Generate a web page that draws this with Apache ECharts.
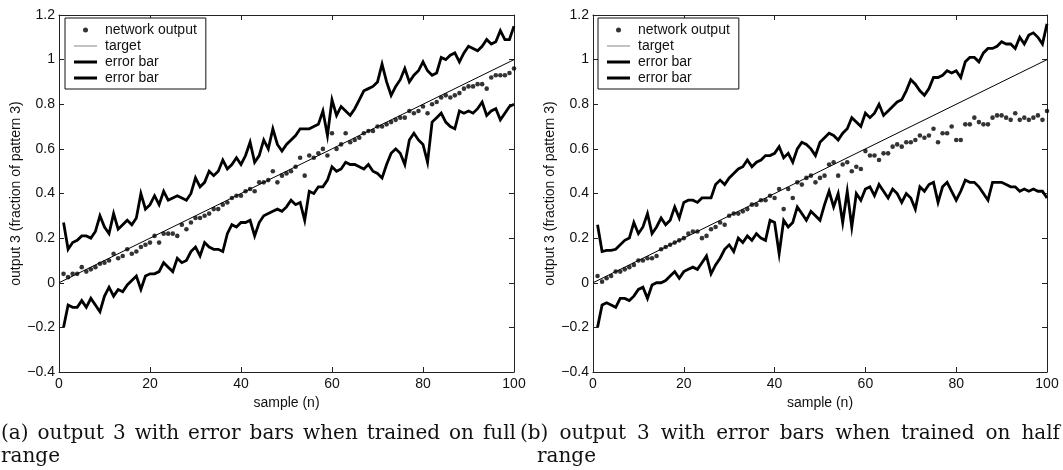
<!DOCTYPE html>
<html>
<head>
<meta charset="utf-8">
<script src="https://cdn.jsdelivr.net/npm/echarts@6/dist/echarts.min.js"></script>
<style>html,body{margin:0;padding:0;background:#fff}#c{width:1063px;height:470px}</style>
</head>
<body>
<div id="c"></div>
<script>
// ---------- data ----------
const xTicks = [0, 20, 40, 60, 80, 100];
const yTicks = [-0.4, -0.2, 0, 0.2, 0.4, 0.6, 0.8, 1, 1.2];
const targetX = [0, 100];
const targetY = [0, 1];

// panel (a): trained on full range, samples n = 1..100
const outA = [0.04,0.025,0.04,0.04,0.07,0.05,0.06,0.07,0.085,0.09,
  0.10,0.13,0.11,0.12,0.15,0.13,0.14,0.16,0.17,0.18,
  0.21,0.18,0.22,0.22,0.22,0.21,0.26,0.24,0.27,0.29,
  0.29,0.30,0.31,0.33,0.33,0.35,0.36,0.38,0.39,0.39,
  0.41,0.42,0.41,0.45,0.45,0.46,0.50,0.45,0.48,0.49,
  0.50,0.52,0.56,0.48,0.57,0.56,0.58,0.60,0.57,0.67,
  0.60,0.62,0.67,0.63,0.64,0.65,0.67,0.68,0.68,0.70,
  0.70,0.71,0.72,0.73,0.74,0.74,0.77,0.76,0.77,0.79,
  0.76,0.80,0.81,0.83,0.84,0.83,0.84,0.85,0.87,0.88,
  0.88,0.89,0.89,0.87,0.92,0.93,0.93,0.93,0.94,0.96];
const upA = [0.27,0.15,0.18,0.19,0.21,0.21,0.20,0.23,0.30,0.25,
  0.22,0.31,0.24,0.26,0.28,0.26,0.29,0.40,0.33,0.35,
  0.39,0.35,0.41,0.37,0.38,0.39,0.38,0.37,0.40,0.47,
  0.43,0.45,0.50,0.48,0.50,0.55,0.51,0.53,0.56,0.53,
  0.57,0.63,0.54,0.57,0.64,0.60,0.69,0.62,0.59,0.62,
  0.64,0.66,0.69,0.69,0.69,0.70,0.71,0.77,0.66,0.82,
  0.75,0.79,0.77,0.75,0.78,0.82,0.86,0.87,0.88,0.90,
  0.98,0.90,0.84,0.88,0.91,0.96,0.90,0.93,0.95,0.99,
  0.95,0.93,0.94,1.01,1.00,1.02,1.03,0.99,1.03,1.06,
  1.05,1.04,1.06,1.09,1.07,1.08,1.13,1.09,1.09,1.15];
const loA = [-0.20,-0.10,-0.11,-0.11,-0.08,-0.11,-0.07,-0.10,-0.13,-0.06,
  -0.02,-0.06,-0.03,-0.04,-0.01,0.01,0.03,-0.03,0.03,0.04,
  0.04,0.05,0.09,0.07,0.05,0.11,0.09,0.10,0.14,0.16,
  0.12,0.18,0.16,0.15,0.15,0.14,0.22,0.26,0.25,0.27,
  0.27,0.28,0.21,0.27,0.30,0.31,0.32,0.33,0.32,0.34,
  0.37,0.35,0.36,0.28,0.41,0.40,0.43,0.43,0.46,0.52,
  0.50,0.51,0.54,0.53,0.53,0.52,0.51,0.53,0.50,0.49,
  0.47,0.53,0.58,0.60,0.58,0.53,0.64,0.67,0.64,0.62,
  0.54,0.72,0.74,0.76,0.72,0.70,0.69,0.77,0.76,0.77,
  0.76,0.78,0.81,0.75,0.77,0.78,0.73,0.76,0.79,0.80];

// panel (b): trained on half range
const outB = [0.03,0.005,0.02,0.03,0.05,0.05,0.06,0.07,0.08,0.10,
  0.10,0.11,0.11,0.12,0.15,0.16,0.17,0.18,0.19,0.20,
  0.22,0.23,0.23,0.20,0.21,0.24,0.25,0.27,0.26,0.30,
  0.31,0.31,0.32,0.33,0.35,0.35,0.37,0.37,0.39,0.38,
  0.42,0.33,0.42,0.38,0.45,0.44,0.47,0.48,0.45,0.47,
  0.48,0.53,0.54,0.48,0.53,0.54,0.50,0.52,0.51,0.59,
  0.57,0.57,0.55,0.58,0.58,0.61,0.62,0.61,0.63,0.63,
  0.64,0.66,0.65,0.66,0.69,0.63,0.67,0.67,0.70,0.64,
  0.64,0.71,0.71,0.74,0.72,0.71,0.71,0.74,0.75,0.75,
  0.74,0.73,0.76,0.73,0.74,0.73,0.74,0.75,0.73,0.77];
const upB = [0.26,0.14,0.145,0.145,0.15,0.17,0.19,0.20,0.27,0.22,
  0.25,0.31,0.22,0.25,0.29,0.26,0.28,0.34,0.29,0.36,
  0.37,0.37,0.36,0.38,0.38,0.38,0.44,0.46,0.44,0.47,
  0.49,0.51,0.52,0.55,0.52,0.54,0.55,0.57,0.57,0.58,
  0.61,0.56,0.58,0.54,0.60,0.63,0.62,0.60,0.57,0.63,
  0.65,0.67,0.66,0.64,0.67,0.69,0.74,0.72,0.70,0.76,
  0.74,0.76,0.80,0.75,0.77,0.79,0.81,0.82,0.86,0.91,
  0.89,0.86,0.84,0.87,0.92,0.92,0.93,0.95,0.94,0.95,
  0.92,0.99,1.01,1.01,0.99,1.03,1.05,1.05,1.06,1.08,
  1.07,1.07,1.05,1.10,1.07,1.11,1.12,1.10,1.07,1.16];
const loB = [-0.20,-0.10,-0.09,-0.10,-0.11,-0.07,-0.07,-0.08,-0.06,-0.03,
  -0.02,-0.07,-0.01,0.00,0.00,0.01,0.03,0.05,0.02,0.05,
  0.06,0.07,0.06,0.09,0.12,0.04,0.08,0.11,0.15,0.17,
  0.14,0.20,0.18,0.21,0.19,0.22,0.20,0.19,0.28,0.27,
  0.13,0.28,0.25,0.27,0.34,0.31,0.28,0.32,0.30,0.28,
  0.35,0.41,0.34,0.40,0.27,0.41,0.25,0.40,0.37,0.42,
  0.43,0.39,0.44,0.41,0.38,0.42,0.40,0.36,0.40,0.38,
  0.33,0.43,0.41,0.44,0.45,0.36,0.43,0.45,0.41,0.37,
  0.41,0.46,0.45,0.45,0.43,0.40,0.37,0.45,0.45,0.45,
  0.44,0.43,0.43,0.41,0.42,0.41,0.42,0.41,0.41,0.38];

const legendLabels = {
  'network output A': 'network output', 'target A': 'target', 'error bar A1': 'error bar', 'error bar A2': 'error bar',
  'network output B': 'network output', 'target B': 'target', 'error bar B1': 'error bar', 'error bar B2': 'error bar'
};
const captionA = ['(a) output 3 with error bars when trained on full', 'range'];
const captionB = ['(b) output 3 with error bars when trained on half', 'range'];

// ---------- helpers ----------
const pairs = arr => arr.map((v, i) => [i + 1, v]);
const targetPairs = targetX.map((x, i) => [x, targetY[i]]);
const fmtY = v => {
  const r = Math.round(v * 10) / 10;
  if (Math.abs(r) < 1e-9) return '0';
  return String(r).replace('-', '\u2212');
};
const SANS = '"Liberation Sans", Arial, Helvetica, sans-serif';
const INK = '#111';

function grids() {
  return [
    {left: 59, top: 15, width: 455, height: 357, show: false},
    {left: 593, top: 15, width: 454, height: 357, show: false}
  ];
}
function xAxes() {
  const a = [];
  [0, 1].forEach(g => {
    a.push({
      type: 'value', gridIndex: g, position: 'bottom', min: xTicks[0], max: xTicks[xTicks.length - 1], interval: 20,
      name: 'sample (n)', nameLocation: 'middle', nameGap: 20,
      nameTextStyle: {fontFamily: SANS, fontSize: 14, color: INK},
      axisLine: {show: true, onZero: false, lineStyle: {color: '#222', width: 1}},
      axisTick: {show: true, inside: true, length: 5, lineStyle: {color: '#222'}},
      axisLabel: {fontFamily: SANS, fontSize: 14, color: INK, margin: 5},
      splitLine: {show: false}
    });
    a.push({
      type: 'value', gridIndex: g, position: 'top', min: xTicks[0], max: xTicks[xTicks.length - 1], interval: 20,
      axisLine: {show: true, onZero: false, lineStyle: {color: '#222', width: 1}},
      axisTick: {show: true, inside: true, length: 5, lineStyle: {color: '#222'}},
      axisLabel: {show: false}, splitLine: {show: false}
    });
  });
  return a;
}
function yAxes() {
  const a = [];
  [0, 1].forEach(g => {
    a.push({
      type: 'value', gridIndex: g, position: 'left', min: yTicks[0], max: yTicks[yTicks.length - 1], interval: 0.2,
      name: 'output 3 (fraction of pattern 3)', nameLocation: 'middle', nameGap: 33,
      nameTextStyle: {fontFamily: SANS, fontSize: 14, color: INK},
      axisLine: {show: true, onZero: false, lineStyle: {color: '#222', width: 1}},
      axisTick: {show: true, inside: true, length: 5, lineStyle: {color: '#222'}},
      axisLabel: {fontFamily: SANS, fontSize: 14, color: INK, margin: 4, formatter: fmtY},
      splitLine: {show: false}
    });
    a.push({
      type: 'value', gridIndex: g, position: 'right', min: yTicks[0], max: yTicks[yTicks.length - 1], interval: 0.2,
      axisLine: {show: true, onZero: false, lineStyle: {color: '#222', width: 1}},
      axisTick: {show: true, inside: true, length: 5, lineStyle: {color: '#222'}},
      axisLabel: {show: false}, splitLine: {show: false}
    });
  });
  return a;
}
function panelSeries(suffix, g, out, up, lo) {
  const xi = g * 2, yi = g * 2;
  return [
    {name: 'network output ' + suffix, type: 'scatter', xAxisIndex: xi, yAxisIndex: yi, data: pairs(out),
      symbol: 'circle', symbolSize: 4.6, itemStyle: {color: '#000'}, silent: true, z: 4},
    {name: 'target ' + suffix, type: 'line', xAxisIndex: xi, yAxisIndex: yi, data: targetPairs,
      symbol: 'none', lineStyle: {color: '#000', width: 1}, itemStyle: {color: '#000'}, silent: true, z: 3},
    {name: 'error bar ' + suffix + '1', type: 'line', xAxisIndex: xi, yAxisIndex: yi, data: pairs(up),
      symbol: 'none', lineStyle: {color: '#000', width: 2.8, join: 'miter'}, itemStyle: {color: '#000'}, silent: true, z: 2},
    {name: 'error bar ' + suffix + '2', type: 'line', xAxisIndex: xi, yAxisIndex: yi, data: pairs(lo),
      symbol: 'none', lineStyle: {color: '#000', width: 2.8, join: 'miter'}, itemStyle: {color: '#000'}, silent: true, z: 2}
  ];
}
function legend(suffix, left) {
  return {
    left: left, top: 18, orient: 'vertical', selectedMode: false,
    backgroundColor: '#fff', borderColor: '#111', borderWidth: 1, borderRadius: 0,
    padding: [5, 9, 4, 9], itemWidth: 23, itemHeight: 5, itemGap: 2, symbolKeepAspect: true,
    textStyle: {fontFamily: SANS, fontSize: 14, color: INK, padding: [0, 0, 0, 3]},
    formatter: n => legendLabels[n],
    data: [
      {name: 'network output ' + suffix, icon: 'circle', itemStyle: {color: '#000'}},
      {name: 'target ' + suffix, icon: 'path://M0,0L46,0L46,1.6L0,1.6Z', itemStyle: {color: '#666'}},
      {name: 'error bar ' + suffix + '1', icon: 'path://M0,0L23,0L23,3L0,3Z', itemStyle: {color: '#000'}},
      {name: 'error bar ' + suffix + '2', icon: 'path://M0,0L23,0L23,3L0,3Z', itemStyle: {color: '#000'}}
    ]
  };
}

// justified caption lines (text positions, not data marks)
const SERIF = '"DejaVu Serif", "Liberation Serif", serif';
const CAP_SIZE = 20;
const mctx = document.createElement('canvas').getContext('2d');
mctx.font = CAP_SIZE + 'px ' + SERIF;
function justified(text, x0, x1, y) {
  const words = text.split(' ');
  const widths = words.map(w => mctx.measureText(w).width);
  const total = widths.reduce((s, w) => s + w, 0);
  const gap = words.length > 1 ? (x1 - x0 - total) / (words.length - 1) : 0;
  const els = [];
  let x = x0;
  words.forEach((w, i) => {
    els.push({type: 'text', left: x, top: y, silent: true,
      style: {text: w, font: CAP_SIZE + 'px ' + SERIF, fill: '#111'}});
    x += widths[i] + gap;
  });
  return els;
}
function plain(text, x, y) {
  return {type: 'text', left: x, top: y, silent: true, style: {text: text, font: CAP_SIZE + 'px ' + SERIF, fill: '#111'}};
}

const chart = echarts.init(document.getElementById('c'), null, {renderer: 'canvas'});
chart.setOption({
  animation: false,
  backgroundColor: '#fff',
  grid: grids(),
  xAxis: xAxes(),
  yAxis: yAxes(),
  legend: [legend('A', 65), legend('B', 598)],
  series: [].concat(panelSeries('A', 0, outA, upA, loA), panelSeries('B', 1, outB, upB, loB)),
  graphic: [].concat(
    justified(captionA[0], 1, 516, 424),
    [plain(captionA[1], 1, 447)],
    justified(captionB[0], 520, 1060, 424),
    [plain(captionB[1], 537, 447)]
  )
});
</script>
</body>
</html>
